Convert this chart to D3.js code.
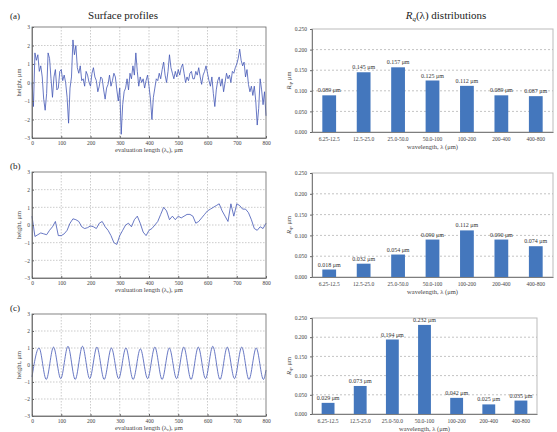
<!DOCTYPE html>
<html lang="en">
  <head>
    <title>Surface profiles and Rq distributions</title>
    <meta charset="utf-8"/>
    <script type="text/javascript" src="https://cdnjs.cloudflare.com/ajax/libs/d3/7.8.5/d3.min.js"></script>
    <style>
     body { margin: 0; background: #fff; }
     svg { display: block; font-family: "Liberation Serif", "DejaVu Serif", serif; }
    </style>
  </head>
  <body>
    <script type="text/javascript">
     // data -------------------------------------------------------------------
     let lengthTicks = [0, 100, 200, 300, 400, 500, 600, 700, 800];
     let heightTicks = [-3, -2, -1, 0, 1, 2, 3];
     let rqTicks = [0, 0.05, 0.1, 0.15, 0.2, 0.25];
     let bands = ["6.25-12.5", "12.5-25.0", "25.0-50.0", "50.0-100", "100-200", "200-400", "400-800"];

     // profile (a), one value every 5 um
     let stepA = 5;
     let profileA = [
       0.0, -1.3, 1.6, 1.2, 1.5, 0.6, 0.9, 0.3, -0.9, -1.5,
       -0.6, 1.6, 1.3, 0.2, -0.8, 0.3, 0.7, -0.4, -0.3, 0.6,
       0.7, 0.1, 0.4, 0.0, -0.8, -2.2, -0.3, 0.3, 2.3, 1.5,
       2.0, 0.8, 0.5, 0.9, 0.1, 0.2, -0.2, 0.6, 0.4, 0.0,
       -0.2, 0.5, 0.8, 0.3, 0.1, -0.5, -0.2, 0.3, 0.2, -0.4,
       -0.9, -0.3, -0.1, 0.4, -0.2, 0.1, 0.5, 0.3, -0.4, -1.0,
       -0.3, -2.8, -1.2, -0.5, -0.3, 0.2, -0.4, 0.5, 0.2, 0.9,
       0.4, 1.6, 0.6, -0.2, 0.3, 0.0, 0.2, -0.3, 0.1, 0.4,
       -0.2, -0.9, -2.0, -0.8, -0.3, 0.2, 0.1, 0.5, 0.2, 0.7,
       1.1, 0.4, 0.0, 0.6, 1.5, 0.8, 0.5, 0.2, 0.6, 0.3,
       0.7, 0.4, 0.8, 1.0, 0.5, 0.0, 0.3, 0.1, 0.5, 0.6,
       0.2, 0.2, 0.6, 0.4, 0.8, 0.3, -0.1, 0.4, 0.6, 0.9,
       0.5, 0.1, -0.2, 0.3, -0.6, -1.3, -0.4, 0.1, 0.3, -0.2,
       0.2, -0.5, 0.0, 0.5, 0.2, 0.4, 0.0, 0.6, 0.5, 0.8,
       1.0, 1.3, 1.8, 1.2, 0.9, 1.1, 0.3, 0.7, -0.1, -0.5,
       -0.2, -0.7, -0.2, -1.0, -2.3, -1.4, 0.2, -0.4, -1.2, -0.5,
       -1.8
     ];

     // profile (b), one value every 10 um
     let stepB = 10;
     let profileB = [
       0.5, -0.65, -0.55, -0.45, -0.5, -0.55, -0.3, -0.1, 0.2, -0.6,
       -0.6, -0.5, -0.3, 0.1, 0.35, 0.3, 0.2, -0.1, -0.2, -0.15,
       -0.05, -0.1, -0.2, 0.1, 0.2, -0.1, -0.3, -0.6, -1.0, -1.1,
       -0.6, -0.3, 0.0, 0.1, -0.1, 0.3, 0.5, 0.1, -0.4, -0.6,
       -0.3, -0.2, 0.0, 0.2, 0.6, 1.0, 0.8, 0.3, 0.5, 0.3,
       0.5, 0.4, 0.5, 0.6, 0.6, 0.5, 0.1, 0.2, 0.4, 0.6,
       0.8, 0.9, 1.0, 1.1, 1.2, 0.8, 0.5, 0.2, 1.2, 0.5,
       1.2, 1.1, 0.9, 0.9, 0.7, 0.3, -0.2, -0.3, -0.1, -0.2,
       0.1
     ];

     // profile (c), crests and troughs of the periodic profile
     let profileCx = [0, 24, 48.75, 73.5, 98.25, 123, 147.75, 172.5, 197.25, 222,
                      246.75, 271.5, 296.25, 321, 345.75, 370.5, 395.25, 420, 444.75, 469.5,
                      494.25, 519, 543.75, 568.5, 593.25, 618, 642.75, 667.5, 692.25, 717,
                      741.75, 766.5, 791.25, 800];
     let profileCy = [-0.7, 1.0, -0.85, 1.05, -0.8, 1.1, -0.85, 1.1, -0.8, 1.05,
                      -0.85, 1.0, -0.8, 1.0, -0.85, 0.95, -0.8, 1.05, -0.85, 1.0,
                      -0.8, 1.05, -0.85, 1.05, -0.8, 1.1, -0.85, 1.05, -0.8, 1.05,
                      -0.85, 1.0, -0.85, -0.3];

     let rqA = [0.089, 0.145, 0.157, 0.125, 0.112, 0.089, 0.087];
     let rqB = [0.018, 0.032, 0.054, 0.090, 0.112, 0.090, 0.074];
     let rqC = [0.029, 0.073, 0.194, 0.232, 0.042, 0.025, 0.035];

     // layout -----------------------------------------------------------------
     let w = 557, h = 432;
     let svg = d3.select("body").append("svg")
       .attr("width", w)
       .attr("height", h);
     svg.append("rect").attr("width", w).attr("height", h).attr("fill", "#fff");

     let panels = [
       { tag: "(a)", tagY: 19,
         pts: profileA.map((v, i) => [i * stepA, v]), curve: d3.curveLinear,
         left: { x0: 32, x1: 266, y0: 27, y1: 138 },
         rq: rqA,
         right: { x0: 312, x1: 553, y0: 29, y1: 132 } },
       { tag: "(b)", tagY: 169,
         pts: profileB.map((v, i) => [i * stepB, v]), curve: d3.curveLinear,
         left: { x0: 32, x1: 266, y0: 172, y1: 278 },
         rq: rqB,
         right: { x0: 312, x1: 553, y0: 173, y1: 277 } },
       { tag: "(c)", tagY: 311,
         pts: profileCx.map((x, i) => [x, profileCy[i]]), curve: d3.curveMonotoneX,
         left: { x0: 32, x1: 266, y0: 314, y1: 416 },
         rq: rqC,
         right: { x0: 312, x1: 537, y0: 318, y1: 414 } }
     ];

     // column titles
     svg.append("text")
       .attr("x", 123).attr("y", 19)
       .attr("text-anchor", "middle")
       .attr("font-size", "11px")
       .attr("fill", "#222")
       .text("Surface profiles");

     let t = svg.append("text")
       .attr("x", 446).attr("y", 19)
       .attr("text-anchor", "middle")
       .attr("font-size", "11px")
       .attr("fill", "#222");
     t.append("tspan").attr("font-style", "italic").text("R");
     t.append("tspan").attr("font-size", "7px").attr("dy", 2).attr("font-style", "italic").text("q");
     t.append("tspan").attr("dy", -2).text("(λ) distributions");

     // surface profile plots ----------------------------------------------------
     function drawProfile(p) {
       let b = p.left;
       let x = d3.scaleLinear().domain([0, 800]).range([b.x0, b.x1]);
       let y = d3.scaleLinear().domain([-3, 3]).range([b.y1, b.y0]);
       let g = svg.append("g");

       // dotted grid
       g.selectAll("line.vg").data(lengthTicks.slice(1, -1)).enter().append("line")
         .attr("x1", d => x(d)).attr("x2", d => x(d))
         .attr("y1", b.y0).attr("y2", b.y1)
         .attr("stroke", "#aaa").attr("stroke-width", 0.6).attr("stroke-dasharray", "1.5,1.5");
       g.selectAll("line.hg").data(heightTicks.slice(1, -1)).enter().append("line")
         .attr("x1", b.x0).attr("x2", b.x1)
         .attr("y1", d => y(d)).attr("y2", d => y(d))
         .attr("stroke", "#aaa").attr("stroke-width", 0.6).attr("stroke-dasharray", "1.5,1.5");

       // profile line
       g.append("path")
         .datum(p.pts)
         .attr("fill", "none")
         .attr("stroke", "#4257b5")
         .attr("stroke-width", 0.8)
         .attr("d", d3.line().x(d => x(d[0])).y(d => y(d[1])).curve(p.curve));

       // axes, ticks inside as in matlab
       let ax = g.append("g").attr("transform", "translate(0," + b.y1 + ")")
         .call(d3.axisBottom(x).tickValues(lengthTicks).tickSizeInner(-2).tickSizeOuter(0).tickPadding(3));
       let ay = g.append("g").attr("transform", "translate(" + b.x0 + ",0)")
         .call(d3.axisLeft(y).tickValues(heightTicks).tickFormat(d3.format("d")).tickSizeInner(-2).tickSizeOuter(0).tickPadding(2));
       [ax, ay].forEach(a => {
         a.select(".domain").attr("stroke", "#666").attr("stroke-width", 0.8);
         a.selectAll(".tick line").attr("stroke", "#666");
         a.selectAll("text").attr("font-size", "5.5px").attr("fill", "#444").attr("font-family", "Liberation Serif");
       });
       g.append("rect")
         .attr("x", b.x0).attr("y", b.y0)
         .attr("width", b.x1 - b.x0).attr("height", b.y1 - b.y0)
         .attr("fill", "none").attr("stroke", "#666").attr("stroke-width", 0.8);

       // axis titles
       let xt = g.append("text")
         .attr("x", (b.x0 + b.x1) / 2).attr("y", b.y1 + 13.5)
         .attr("text-anchor", "middle")
         .attr("font-size", "6.5px").attr("fill", "#444");
       xt.append("tspan").text("evaluation length (λ");
       xt.append("tspan").attr("font-size", "4.5px").attr("dy", 1).text("c");
       xt.append("tspan").attr("dy", -1).text("), μm");

       g.append("text")
         .attr("transform", "translate(" + (b.x0 - 11) + "," + ((b.y0 + b.y1) / 2) + ") rotate(-90)")
         .attr("text-anchor", "middle")
         .attr("font-size", "6.5px").attr("fill", "#444")
         .text("height, μm");

       svg.append("text")
         .attr("x", 10).attr("y", p.tagY)
         .attr("font-size", "9px").attr("fill", "#222")
         .text(p.tag);
     }

     // Rq bar charts -------------------------------------------------------------
     function drawBars(p) {
       let b = p.right;
       let x = d3.scaleBand().domain(bands).range([b.x0, b.x1]).paddingInner(0.6).paddingOuter(0.3);
       let y = d3.scaleLinear().domain([0, 0.25]).range([b.y1, b.y0]);
       let g = svg.append("g");

       // frame and dashed grid
       g.append("rect")
         .attr("x", b.x0).attr("y", b.y0)
         .attr("width", b.x1 - b.x0).attr("height", b.y1 - b.y0)
         .attr("fill", "none").attr("stroke", "#bbb").attr("stroke-width", 1);
       g.selectAll("line.hg").data(rqTicks.slice(1, -1)).enter().append("line")
         .attr("x1", b.x0).attr("x2", b.x1)
         .attr("y1", d => y(d)).attr("y2", d => y(d))
         .attr("stroke", "#aaa").attr("stroke-width", 0.7).attr("stroke-dasharray", "2,2");

       g.selectAll("rect.bar").data(p.rq).enter().append("rect")
         .attr("class", "bar")
         .attr("x", (d, i) => x(bands[i]))
         .attr("y", d => y(d))
         .attr("width", x.bandwidth())
         .attr("height", d => y(0) - y(d))
         .attr("fill", "#4477bd");

       g.selectAll("text.val").data(p.rq).enter().append("text")
         .attr("x", (d, i) => x(bands[i]) + x.bandwidth() / 2)
         .attr("y", d => y(d) - 3)
         .attr("text-anchor", "middle")
         .attr("font-size", "6px").attr("fill", "#333")
         .text(d => d3.format(".3f")(d) + " μm");

       let ax = g.append("g").attr("transform", "translate(0," + b.y1 + ")")
         .call(d3.axisBottom(x).tickSize(0).tickPadding(5));
       let ay = g.append("g").attr("transform", "translate(" + b.x0 + ",0)")
         .call(d3.axisLeft(y).tickValues(rqTicks).tickFormat(d3.format(".3f")).tickSize(2).tickPadding(3));
       [ax, ay].forEach(a => {
         a.select(".domain").attr("stroke", "#666").attr("stroke-width", 0.8);
         a.selectAll(".tick line").attr("stroke", "#666");
         a.selectAll("text").attr("font-size", "5.5px").attr("fill", "#444").attr("font-family", "Liberation Serif");
       });

       g.append("text")
         .attr("x", (b.x0 + b.x1) / 2).attr("y", b.y1 + 17)
         .attr("text-anchor", "middle")
         .attr("font-size", "6.5px").attr("fill", "#444")
         .text("wavelength, λ (μm)");

       let yt = g.append("text")
         .attr("transform", "translate(" + (b.x0 - 21) + "," + ((b.y0 + b.y1) / 2) + ") rotate(-90)")
         .attr("text-anchor", "middle")
         .attr("font-size", "6.5px").attr("fill", "#444");
       yt.append("tspan").attr("font-style", "italic").text("R");
       yt.append("tspan").attr("font-size", "4.5px").attr("dy", 1).text("q");
       yt.append("tspan").attr("dy", -1).text(", μm");
     }

     panels.forEach(p => { drawProfile(p); drawBars(p); });
    </script>
  </body>
</html>
